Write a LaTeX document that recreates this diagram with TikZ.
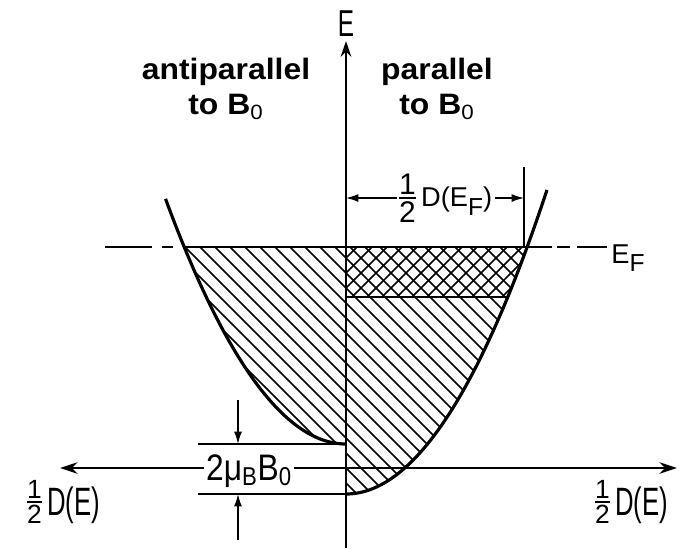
\documentclass[tikz,border=0pt]{standalone}
\usepackage{fontspec}
\setmainfont{Liberation Sans}
\newfontfamily\narrowfont[FakeStretch=0.65]{Liberation Sans}
\newfontfamily\midfont[FakeStretch=0.86]{Liberation Sans}
\newfontfamily\widefont[FakeStretch=1.08]{Liberation Sans}
\usetikzlibrary{arrows.meta}

% fraction 1/2 : size, shift
\newcommand{\halfof}[2]{\raisebox{#2}{\vbox{\hbox{\rmfamily\fontsize{#1}{#1}\selectfont 1}\kern1.6pt\hrule height 0.9pt\kern1.6pt\hbox{\rmfamily\fontsize{#1}{#1}\selectfont 2}}}\kern3pt}
\newcommand{\lowF}{\raisebox{-0.33em}{\fontsize{14}{14}\selectfont F}}

\tikzset{
  curve/.style={line width=1.8pt},
  axisline/.style={line width=1.4pt},
  hatch/.style={line width=0.95pt},
  thinline/.style={line width=0.9pt},
  fermiline/.style={line width=1.7pt},
  dimarrow/.style={line width=0.8pt,-{Latex[length=7pt,width=4.5pt]}},
  dimboth/.style={line width=0.8pt,{Latex[length=7pt,width=4.5pt]}-{Latex[length=7pt,width=4.5pt]}},
  toplabel/.style={font=\widefont\bfseries\fontsize{16.8}{20}\selectfont, align=center},
}

\begin{document}
\begin{tikzpicture}
    \useasboundingbox (-6.92,-1.6) rectangle (6.68,9.36);

    % points of the two bands
    \coordinate (O) at (0,0);
    \coordinate (Eb) at (0,-1.6);
    \coordinate (Et) at (0,8.54);
    \coordinate (Dl) at (-5.72,0);
    \coordinate (Dr) at (6.62,0);
    \coordinate (Fm) at (0,4.42);
    \coordinate (FL) at (-3.2355,4.42);
    \coordinate (FR) at (3.623,4.42);
    \coordinate (Cm) at (0,3.42);
    \coordinate (Cr) at (3.2355,3.42);
    \coordinate (botA) at (0,0.48);
    \coordinate (botP) at (0,-0.52);

    % hatching, antiparallel side
    \begin{scope}
        \clip (Fm) -- (FL) -- plot[domain=3.2355:0,samples=40] ({-\x},{(\x/1.63)^2+0.48}) -- cycle;
        \foreach \i in {0,...,40} \draw[hatch] ({\i*0.3-9.3},6) -- ++(8,-8);
    \end{scope}
    % hatching, parallel side
    \begin{scope}
        \clip (Fm) -- (FR) -- plot[domain=3.623:0,samples=40] (\x,{(\x/1.63)^2-0.52}) -- cycle;
        \foreach \i in {0,...,40} \draw[hatch] ({\i*0.3-9.3},6) -- ++(8,-8);
    \end{scope}
    % cross hatching, excess electrons
    \begin{scope}
        \clip (Fm) -- (FR) -- plot[domain=3.623:3.2355,samples=10] (\x,{(\x/1.63)^2-0.52}) -- (Cm) -- cycle;
        \foreach \i in {0,...,16} \draw[hatch] ({\i*0.3-2.5},2) -- ++(3,3);
    \end{scope}

    % the two parabolas
    \draw[curve] plot[domain=0:3.61,samples=60] ({-\x},{(\x/1.63)^2+0.48});
    \draw[curve] plot[domain=0:4.02,samples=60] (\x,{(\x/1.63)^2-0.52});

    % axes
    \draw[axisline,-{Stealth[length=9pt,width=6pt]}] (Eb) -- (Et);
    \draw[axisline,{Stealth[length=10pt,width=6.5pt]}-{Stealth[length=10pt,width=6.5pt]}] (Dl) -- (Dr);
    \node[font=\narrowfont\fontsize{21.3}{24}\selectfont] (Elab) at (0,8.89) {E};

    % Fermi level
    \coordinate (Fa) at (-4.82,4.42);
    \coordinate (Fs) at (4.12,4.42);
    \coordinate (Fb) at (5.22,4.42);
    \draw[fermiline] (FL) -- (FR) -- (Fs);
    \draw[fermiline, dash pattern=on 27pt off 5.7pt on 6.2pt off 5.7pt] (Fa) -- (FL);
    \draw[fermiline, dash pattern=on 7.4pt off 4pt on 17pt off 2.8pt, dash phase=28.4pt] (Fs) -- (Fb);
    \draw[fermiline] (Cm) -- (Cr);
    \node[anchor=base west, inner sep=0pt, font=\fontsize{15.5}{18}\selectfont] (EF) at (5.3,4.1) {E\lowF};

    % 1/2 D(E_F)
    \coordinate (Xt) at (3.56,6.02);
    \coordinate (Xb) at (3.56,4.42);
    \coordinate (DFa) at (0,5.4);
    \coordinate (DFb) at (3.56,5.4);
    \draw[thinline] (Xt) -- (Xb);
    \draw[dimboth] (DFa) -- (DFb)
        node[pos=0.56, fill=white, inner sep=1.5pt, font=\fontsize{15.5}{18}\selectfont] (DEF) {\halfof{17}{-8.8pt}D(E\lowF)};

    % splitting 2 mu_B B_0
    \node[anchor=base west, fill=white, inner sep=1pt, font=\midfont\fontsize{21}{24}\selectfont] (mu) at (-2.84,-0.24) {2μ\textsubscript{B}B\textsubscript{0}};
    \coordinate (Ma) at (-2.96,0.48);
    \coordinate (Mb) at (-2.96,-0.52);
    \coordinate (Au) at (-2.16,1.36);
    \coordinate (Ad) at (-2.16,-1.44);
    \draw[thinline] (Ma) -- (botA);
    \draw[thinline] (Mb) -- (botP);
    \draw[dimarrow] (Au) -- (Au |- botA);
    \draw[dimarrow] (Ad) -- (Ad |- botP);

    % labels
    \node[toplabel] (anti) at (-2.4,7.58) {antiparallel\\to B\textsubscript{\mdseries 0}};
    \node[toplabel] (para) at (1.82,7.58) {parallel\\to B\textsubscript{\mdseries 0}};
    \node[font=\narrowfont\fontsize{22.5}{26}\selectfont] (DEl) at (-5.65,-0.68) {\halfof{15}{-5pt}D(E)};
    \node[font=\narrowfont\fontsize{22.5}{26}\selectfont] (DEr) at (5.71,-0.68) {\halfof{15}{-5pt}D(E)};
\end{tikzpicture}
\end{document}
